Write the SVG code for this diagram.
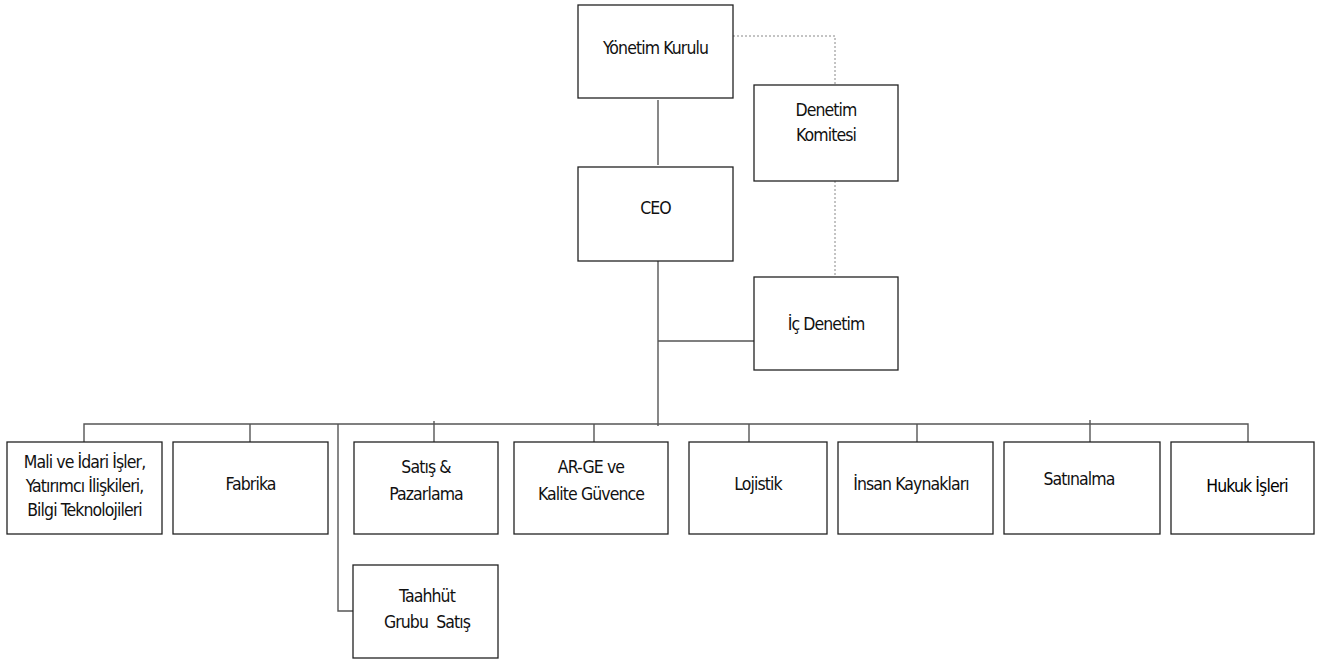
<svg xmlns="http://www.w3.org/2000/svg" width="1329" height="662" viewBox="0 0 1329 662">
<style>
.box{fill:#fff;stroke:#222;stroke-width:1.3}
.ln{fill:none;stroke:#555;stroke-width:1.4}
.dot{fill:none;stroke:#888;stroke-width:1;stroke-dasharray:2 2}
text{font-family:"DejaVu Sans Condensed","DejaVu Sans",sans-serif;font-size:17.5px;fill:#111;text-anchor:middle;letter-spacing:-0.9px}
</style>
<rect width="1329" height="662" fill="#fff"/>
<g id="connectors">
<path class="dot" d="M733 36H835V85"/>
<path class="dot" d="M835 181V277"/>
<path class="ln" d="M658 100V165"/>
<path class="ln" d="M658 261V426"/>
<path class="ln" d="M658 341H754"/>
<path class="ln" d="M84 442V424H1248V442"/>
<path class="ln" d="M250 424V442"/>
<path class="ln" d="M434 421V442"/>
<path class="ln" d="M594 424V442"/>
<path class="ln" d="M749 424V442"/>
<path class="ln" d="M917 424V442"/>
<path class="ln" d="M1090 420V442"/>
<path class="ln" d="M338 424V611H353"/>
</g>
<g id="yonetim"><rect class="box" x="578" y="5" width="155" height="93"/><text x="655.5" y="54">Yönetim Kurulu</text></g>
<g id="denetim-komitesi"><rect class="box" x="754" y="85" width="144" height="96"/><text x="826" y="116">Denetim</text><text x="826" y="141">Komitesi</text></g>
<g id="ceo"><rect class="box" x="578" y="167" width="155" height="94"/><text x="655.5" y="214">CEO</text></g>
<g id="ic-denetim"><rect class="box" x="754" y="277" width="144" height="93"/><text x="826" y="330">İç Denetim</text></g>
<g id="mali"><rect class="box" x="7" y="442" width="155" height="92"/><text x="84.5" y="468">Mali ve İdari İşler,</text><text x="84.5" y="492">Yatırımcı İlişkileri,</text><text x="84.5" y="516">Bilgi Teknolojileri</text></g>
<g id="fabrika"><rect class="box" x="173" y="442" width="155" height="92"/><text x="250.5" y="490">Fabrika</text></g>
<g id="satis"><rect class="box" x="354" y="442" width="144" height="92"/><text x="426" y="473">Satış &amp;</text><text x="426" y="500">Pazarlama</text></g>
<g id="arge"><rect class="box" x="514" y="442" width="154" height="92"/><text x="591" y="473">AR-GE ve</text><text x="591" y="500">Kalite Güvence</text></g>
<g id="lojistik"><rect class="box" x="689" y="442" width="138" height="92"/><text x="758" y="490">Lojistik</text></g>
<g id="ik"><rect class="box" x="838" y="442" width="155" height="92"/><text x="911" y="490">İnsan Kaynakları</text></g>
<g id="satinalma"><rect class="box" x="1004" y="442" width="156" height="92"/><text x="1079" y="485">Satınalma</text></g>
<g id="hukuk"><rect class="box" x="1171" y="442" width="143" height="92"/><text x="1247" y="492" style="fill:#000">Hukuk İşleri</text></g>
<g id="taahhut"><rect class="box" x="353" y="565" width="145" height="93"/><text x="427" y="602">Taahhüt</text><text x="427" y="628" xml:space="preserve">Grubu  Satış</text></g>
</svg>
